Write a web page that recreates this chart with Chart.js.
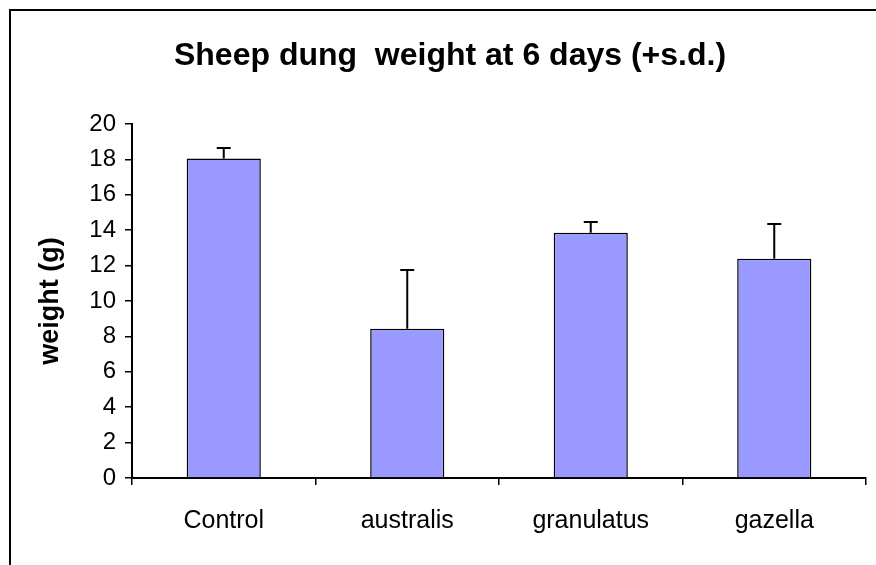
<!DOCTYPE html>
<html>
<head>
<meta charset="utf-8">
<script src="https://cdn.jsdelivr.net/npm/chart.js@4/dist/chart.umd.min.js"></script>
<style>
  html, body { margin: 0; padding: 0; background: #fff; }
  #wrap { width: 876px; height: 565px; }
</style>
</head>
<body>
<div id="wrap"><canvas id="dungChart" width="876" height="565"></canvas></div>
<script>
const categories = ['Control', 'australis', 'granulatus', 'gazella'];
const meanWeight = [18.05, 8.43, 13.86, 12.39];
const sdWeight = [0.6, 3.32, 0.6, 1.96];
const yTicks = [0, 2, 4, 6, 8, 10, 12, 14, 16, 18, 20];

const FONT = 'Liberation Sans, Arial, sans-serif';

// frame round the whole chart (only top/left edges fall inside the window)
const framePlugin = {
    id: 'frame',
    beforeDraw(chart) {
        const ctx = chart.ctx;
        ctx.save();
        ctx.fillStyle = '#fff';
        ctx.fillRect(0, 0, chart.width, chart.height);
        ctx.strokeStyle = '#000';
        ctx.lineWidth = 2;
        ctx.strokeRect(10, 10, 900, 600);
        ctx.restore();
    }
};

// upward error bars (+s.d.)
const errorBars = {
    id: 'errorBars',
    afterDatasetsDraw(chart) {
        const ctx = chart.ctx;
        const y = chart.scales.y;
        const meta = chart.getDatasetMeta(0);
        ctx.save();
        ctx.strokeStyle = '#000';
        ctx.lineWidth = 2;
        meta.data.forEach((bar, i) => {
            const top = y.getPixelForValue(meanWeight[i] + sdWeight[i]);
            ctx.beginPath();
            ctx.moveTo(bar.x, bar.y);
            ctx.lineTo(bar.x, top);
            ctx.moveTo(bar.x - 7, top);
            ctx.lineTo(bar.x + 7, top);
            ctx.stroke();
        });
        ctx.restore();
    }
};

const ctx = document.getElementById('dungChart').getContext('2d');
const chart = new Chart(ctx, {
    type: 'bar',
    data: {
        labels: categories,
        datasets: [{
            label: 'weight',
            data: meanWeight,
            backgroundColor: '#9999FF',
            borderColor: '#000',
            borderWidth: 1.5,
            categoryPercentage: 1,
            barPercentage: 0.404
        }]
    },
    options: {
        responsive: false,
        animation: false,
        layout: { padding: { top: 10, left: 34, right: 10, bottom: 0 } },
        plugins: {
            legend: { display: false },
            tooltip: { enabled: false },
            title: {
                display: true,
                text: 'Sheep dung  weight at 6 days (+s.d.)',
                color: '#000',
                font: { family: FONT, size: 32, weight: 'bold', lineHeight: 1.2 },
                padding: { top: 27, bottom: 48.6 }
            }
        },
        scales: {
            x: {
                offset: true,
                grid: { offset: true, drawOnChartArea: false, drawTicks: true, tickLength: 7, color: '#000', lineWidth: 1.5 },
                border: { display: true, color: '#000', width: 2 },
                ticks: {
                    color: '#000',
                    padding: 21,
                    font: { family: FONT, size: 25 }
                },
                afterFit(scale) { scale.height = 87; }
            },
            y: {
                min: 0,
                max: 20,
                afterBuildTicks(scale) { scale.ticks = yTicks.map(v => ({ value: v })); },
                grid: { drawOnChartArea: false, drawTicks: true, tickLength: 7, color: '#000', lineWidth: 1.5 },
                border: { display: true, color: '#000', width: 2 },
                ticks: {
                    color: '#000',
                    padding: 9,
                    font: { family: FONT, size: 24 }
                },
                title: {
                    display: true,
                    text: 'weight (g)',
                    color: '#000',
                    font: { family: FONT, size: 27, weight: 'bold' },
                    padding: { top: 0, bottom: 0 }
                },
                afterFit(scale) { scale.width = 98; }
            }
        }
    },
    plugins: [framePlugin, errorBars]
});
</script>
</body>
</html>
